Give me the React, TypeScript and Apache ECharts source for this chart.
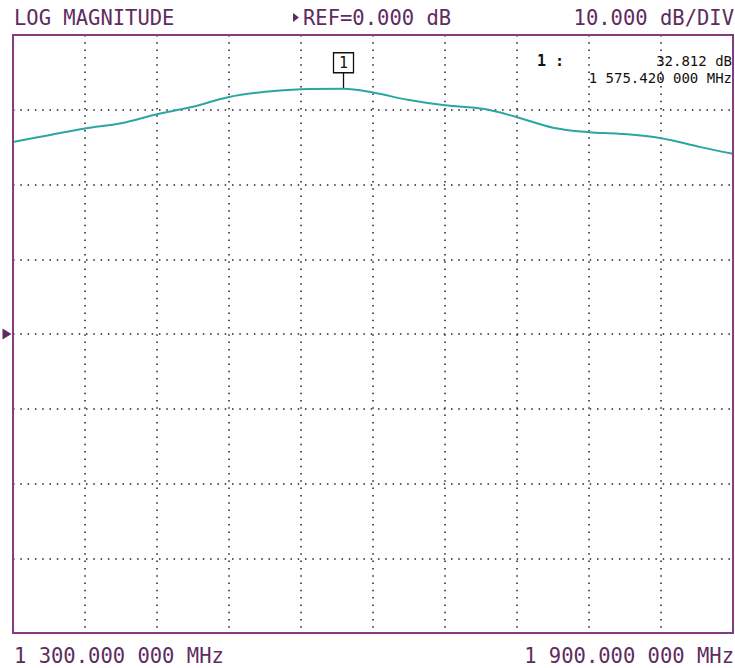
import React, { useEffect, useRef } from "react";
import * as echarts from "echarts";

const START_MHZ = 1300;
const STOP_MHZ = 1900;
const REF_DB = 0;
const DB_PER_DIV = 10;

const freqsMHz = [1300, 1330, 1360, 1390, 1420, 1450, 1480, 1510, 1540, 1575.42, 1600, 1630, 1660, 1693, 1720, 1750, 1780, 1805, 1840, 1873, 1900];
const magDB = [25.7, 26.6, 27.5, 28.2, 29.4, 30.4, 31.7, 32.4, 32.75, 32.812, 32.3, 31.3, 30.6, 30.1, 29.0, 27.6, 27.0, 26.8, 26.2, 25.0, 24.1];

const markerFreq = 1575.42;
const markerDB = 32.812;

const headerLeft = "LOG MAGNITUDE";
const headerMid = "REF=0.000 dB";
const headerRight = "10.000 dB/DIV";
const footerLeft = "1 300.000 000 MHz";
const footerRight = "1 900.000 000 MHz";
const readoutLabel = "1 :";
const readoutValue = "32.812 dB";
const readoutFreq = "1 575.420 000 MHz";

const PURPLE = "#5e2c60";
const FRAME = "#843c82";
const TRACE = "#2ba6a0";
const MONO = "'DejaVu Sans Mono', 'Liberation Mono', monospace";

export default function App() {
  const ref = useRef<HTMLDivElement>(null);
  useEffect(() => {
    document.body.style.margin = "0";
    const chart = echarts.init(ref.current!, undefined, { renderer: "svg" });
    const span = STOP_MHZ - START_MHZ;
    const data = freqsMHz.map((f, i) => [f - START_MHZ, magDB[i]]);
    const dotted = { color: "#222", width: 1.5, type: [1.5, 5.8] as number[] };
    chart.setOption({
      animation: false,
      backgroundColor: "#fff",
      grid: { left: 13, right: 2, top: 35, bottom: 35, show: false },
      xAxis: {
        type: "value",
        min: 0,
        max: span,
        interval: span / 10,
        axisLine: { show: false },
        axisTick: { show: false },
        axisLabel: { show: false },
        splitLine: { show: true, lineStyle: dotted },
      },
      yAxis: {
        type: "value",
        min: REF_DB - 4 * DB_PER_DIV,
        max: REF_DB + 4 * DB_PER_DIV,
        interval: DB_PER_DIV,
        axisLine: { show: false },
        axisTick: { show: false },
        axisLabel: { show: false },
        splitLine: { show: true, lineStyle: dotted },
      },
      series: [
        {
          type: "line",
          data,
          showSymbol: false,
          smooth: 0.35,
          clip: false,
          lineStyle: { color: TRACE, width: 2 },
          z: 5,
          markPoint: {
            silent: true,
            data: [
              {
                coord: [markerFreq - START_MHZ, markerDB],
                symbol: "rect",
                symbolSize: [1.3, 16],
                symbolOffset: [0, -8],
                itemStyle: { color: "#111" },
                label: { show: false },
              },
              {
                coord: [markerFreq - START_MHZ, markerDB],
                symbol: "rect",
                symbolSize: [20, 20],
                symbolOffset: [0, -26],
                itemStyle: { color: "#fff", borderColor: "#111", borderWidth: 1.3 },
                label: {
                  show: true,
                  position: "inside",
                  formatter: "1",
                  color: "#111",
                  fontSize: 15,
                  fontFamily: MONO,
                },
              },
              {
                coord: [0, REF_DB],
                symbol: "triangle",
                symbolSize: [11, 9],
                symbolRotate: -90,
                symbolOffset: [-6, 0],
                itemStyle: { color: PURPLE },
                label: { show: false },
              },
            ],
          },
        },
      ],
      graphic: [
        {
          type: "rect",
          z: 100,
          shape: { x: 13, y: 35, width: 720, height: 598 },
          style: { fill: "none", stroke: FRAME, lineWidth: 2 },
        },
        {
          type: "text",
          left: 14,
          top: 7,
          style: { text: headerLeft, fill: PURPLE, fontSize: 20.5, fontFamily: MONO },
        },
        {
          type: "polygon",
          shape: { points: [[293, 13], [299, 17.5], [293, 22]] },
          style: { fill: PURPLE },
        },
        {
          type: "text",
          x: 303,
          y: 7,
          style: { text: headerMid, fill: PURPLE, fontSize: 20.5, fontFamily: MONO },
        },
        {
          type: "text",
          x: 734,
          y: 7,
          style: { text: headerRight, fill: PURPLE, fontSize: 20.5, fontFamily: MONO, align: "right" },
        },
        {
          type: "text",
          x: 14,
          y: 645,
          style: { text: footerLeft, fill: PURPLE, fontSize: 20.5, fontFamily: MONO },
        },
        {
          type: "text",
          x: 734,
          y: 645,
          style: { text: footerRight, fill: PURPLE, fontSize: 20.5, fontFamily: MONO, align: "right" },
        },
        {
          type: "text",
          x: 537,
          y: 61,
          z: 50,
          style: { text: readoutLabel, fill: "#111", fontSize: 15, fontWeight: "bold", fontFamily: MONO, verticalAlign: "middle" },
        },
        {
          type: "text",
          x: 732,
          y: 61,
          z: 50,
          style: { text: readoutValue, fill: "#111", fontSize: 14, fontFamily: MONO, align: "right", verticalAlign: "middle" },
        },
        {
          type: "text",
          x: 732,
          y: 78,
          z: 50,
          style: { text: readoutFreq, fill: "#111", fontSize: 14, fontFamily: MONO, align: "right", verticalAlign: "middle" },
        },
      ],
    });
    return () => chart.dispose();
  }, []);
  return (
    <div
      ref={ref}
      style={{ position: "absolute", left: 0, top: 0, width: 735, height: 668, background: "#fff" }}
    />
  );
}
